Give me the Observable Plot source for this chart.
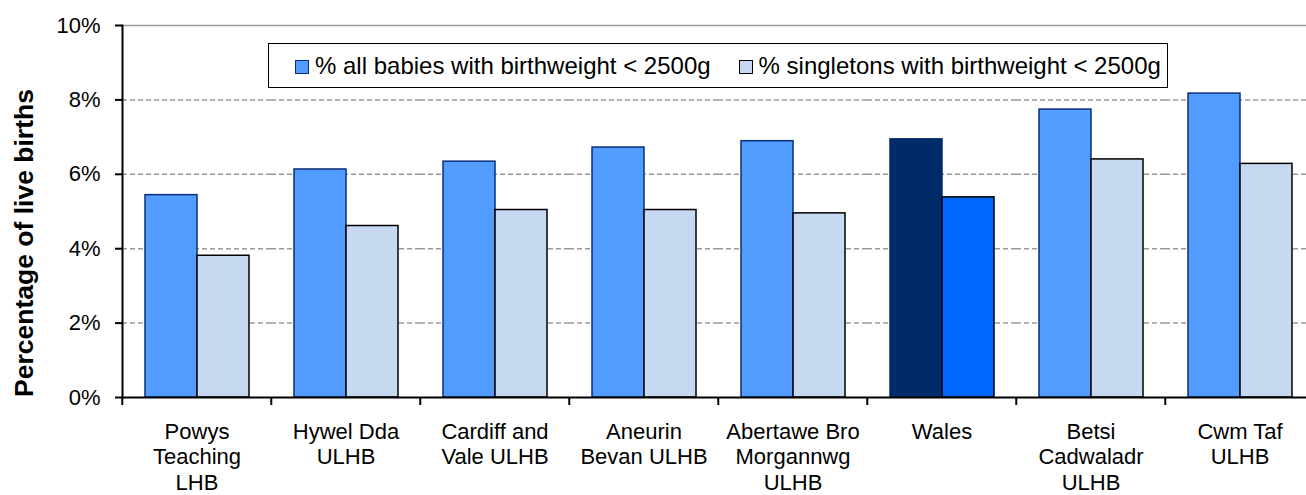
<!DOCTYPE html>
<html>
<head>
<meta charset="utf-8">
<script src="https://cdn.jsdelivr.net/npm/d3@7"></script>
<script src="https://cdn.jsdelivr.net/npm/@observablehq/plot@0.6"></script>
<style>
  html, body { margin: 0; padding: 0; background: #fff; overflow: hidden; }
  #wrap { position: relative; width: 1306px; height: 495px; font-family: 'Liberation Sans', Arial, sans-serif; }
  #ytitle { position: absolute; left: 24px; top: 243px; transform: translate(-50%, -50%) rotate(-90deg);
            font-weight: bold; font-size: 26.5px; line-height: 1; white-space: nowrap; color: #000; }
  #legend { position: absolute; left: 268px; top: 43px; width: 898px; height: 43px; border: 1.5px solid #000;
            background: #fff; display: flex; align-items: center; box-sizing: content-box;
            font-size: 24px; color: #000; white-space: nowrap; }
  .sw { display: inline-block; width: 12px; height: 12px; border: 1.5px solid; margin-right: 6px; position: relative; top: 1px; }
  .item { display: flex; align-items: center; }
</style>
</head>
<body>
<div id="wrap"></div>
<script>
const categories = ["Powys Teaching LHB", "Hywel Dda ULHB", "Cardiff and Vale ULHB", "Aneurin Bevan ULHB",
  "Abertawe Bro Morgannwg ULHB", "Wales", "Betsi Cadwaladr ULHB", "Cwm Taf ULHB"];
const tickLabels = ["Powys\nTeaching\nLHB", "Hywel Dda\nULHB", "Cardiff and\nVale ULHB", "Aneurin\nBevan ULHB",
  "Abertawe Bro\nMorgannwg\nULHB", "Wales", "Betsi\nCadwaladr\nULHB", "Cwm Taf\nULHB"];
const seriesNames = ["% all babies with birthweight < 2500g", "% singletons with birthweight < 2500g"];
const allBabies = [5.44, 6.13, 6.34, 6.72, 6.89, 6.94, 7.74, 8.17];
const singletons = [3.81, 4.61, 5.04, 5.04, 4.95, 5.38, 6.40, 6.28];
const yTicks = [0, 2, 4, 6, 8, 10];
const yGrid = [2, 4, 6, 8];

const seriesFill = ["#529BFF", "#C6D9F0"];
const seriesStroke = ["#0B2F7A", "#000000"];
const walesFill = ["#002B6B", "#0066FF"];
const walesStroke = ["#002B6B", "#000000"];

const data = categories.flatMap((c, i) => [
  {category: c, series: seriesNames[0], value: allBabies[i]},
  {category: c, series: seriesNames[1], value: singletons[i]}
]);
const si = d => seriesNames.indexOf(d.series);

const width = 1306, marginLeft = 120, marginRight = -9.6;
const step = (width - marginRight - marginLeft) / categories.length;

const chart = Plot.plot({
  width, height: 495,
  marginLeft, marginRight, marginTop: 25, marginBottom: 98,
  style: {fontFamily: "'Liberation Sans', Arial, sans-serif", fontSize: "22px", color: "#000", background: "#fff"},
  fx: {domain: categories, padding: 0, axis: null},
  x: {domain: seriesNames, paddingInner: 0, paddingOuter: 0.41, axis: null},
  y: {domain: [0, 10], axis: null},
  marks: [
    Plot.ruleY(yGrid, {stroke: "#9a9a9a", strokeWidth: 1.5, strokeDasharray: "5,3"}),
    Plot.ruleY([10], {stroke: "#9a9a9a", strokeWidth: 1.5}),
    Plot.barY(data, {
      fx: "category", x: "series", y: "value",
      fill: d => d.category === "Wales" ? walesFill[si(d)] : seriesFill[si(d)],
      stroke: d => d.category === "Wales" ? walesStroke[si(d)] : seriesStroke[si(d)],
      strokeWidth: 1.5
    }),
    Plot.ruleY([0], {stroke: "#000", strokeWidth: 2}),
    Plot.axisY({ticks: yTicks, tickSize: 7, tickPadding: 15, tickFormat: d => d + "%", label: null, strokeWidth: 2}),
    Plot.frame({anchor: "left", facetAnchor: "left", stroke: "#000", strokeWidth: 2}),
    Plot.axisFx({anchor: "bottom", tickSize: 0, tickPadding: 23, lineHeight: 1.16, label: null,
      tickFormat: d => tickLabels[categories.indexOf(d)]}),
    Plot.axisFx({anchor: "bottom", tickSize: 8, tickFormat: () => "", dx: -step / 2, strokeWidth: 2, label: null})
  ]
});

const wrap = document.getElementById("wrap");
wrap.appendChild(chart);

const yt = document.createElement("div");
yt.id = "ytitle";
yt.textContent = "Percentage of live births";
wrap.appendChild(yt);

const lg = document.createElement("div");
lg.id = "legend";
lg.innerHTML = seriesNames.map((s, i) =>
  `<span class="item" style="margin-left:${i === 0 ? 26 : 28}px"><span class="sw" style="background:${seriesFill[i]};border-color:${seriesStroke[i]}"></span>${s}</span>`
).join("");
wrap.appendChild(lg);
</script>
</body>
</html>
